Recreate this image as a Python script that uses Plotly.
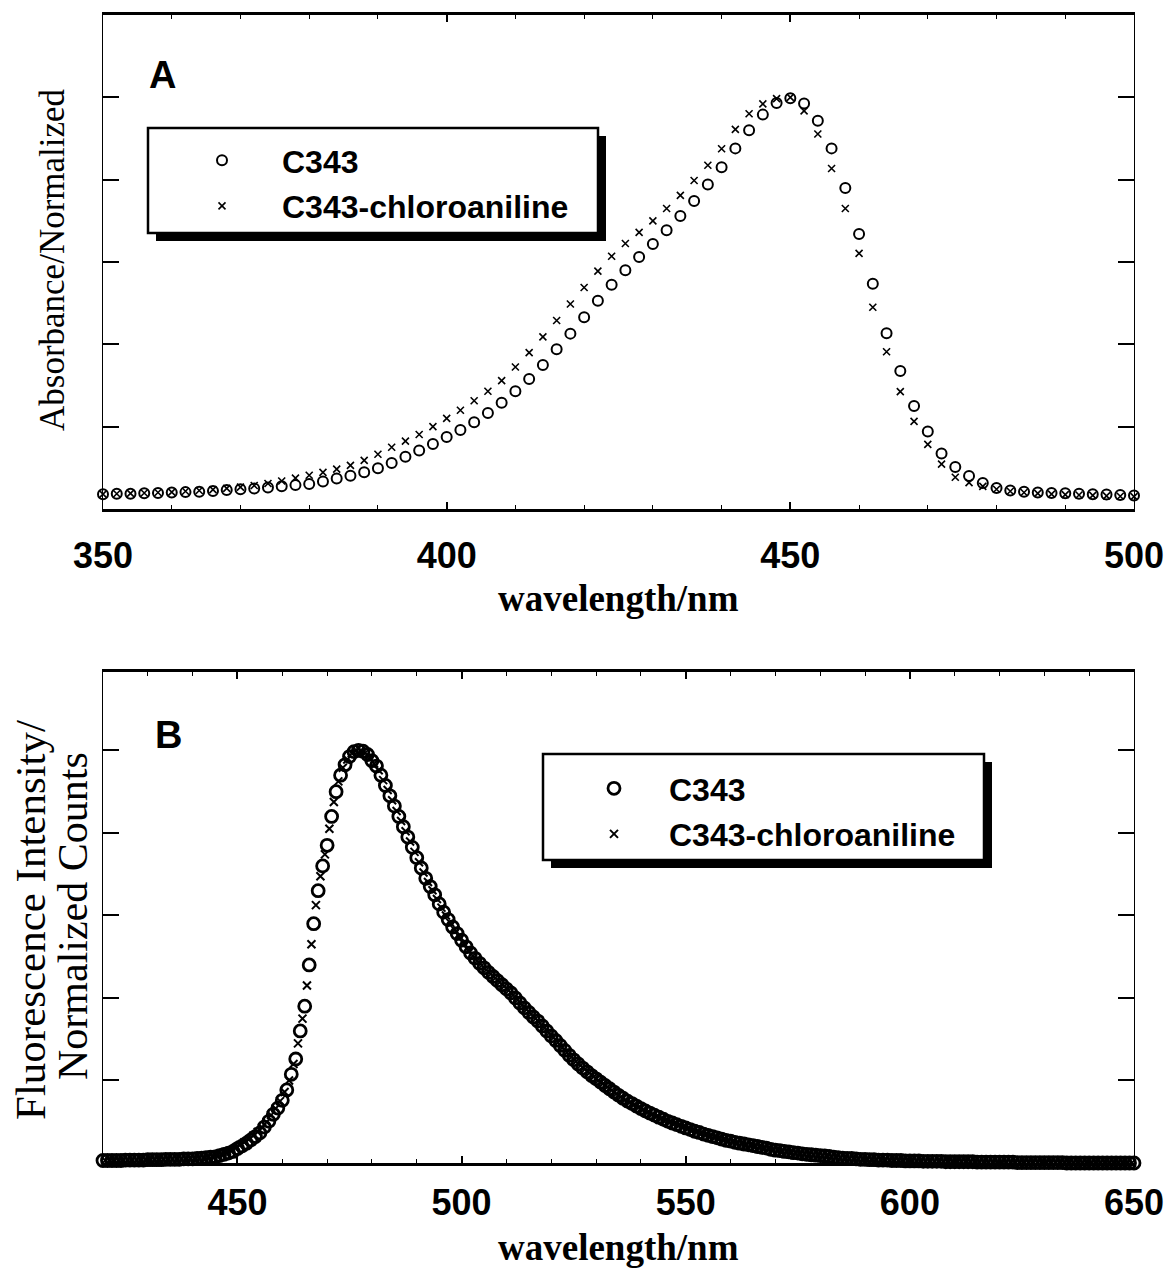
import plotly.graph_objects as go

# ---------------- Panel A data (absorbance, 2 nm steps) ----------------
wl_abs = list(range(350, 501, 2))
abs_c343 = [
    0.036, 0.037, 0.037, 0.038, 0.039, 0.040, 0.041, 0.042, 0.044, 0.046,
    0.048, 0.050, 0.052, 0.055, 0.058, 0.061, 0.067, 0.074, 0.081, 0.089,
    0.099, 0.112, 0.127, 0.142, 0.158, 0.175, 0.192, 0.211, 0.233, 0.258,
    0.286, 0.316, 0.350, 0.388, 0.426, 0.466, 0.506, 0.545, 0.580, 0.612,
    0.644, 0.677, 0.712, 0.748, 0.788, 0.830, 0.876, 0.920, 0.958, 0.986,
    0.998, 0.985, 0.943, 0.876, 0.780, 0.668, 0.547, 0.427, 0.335, 0.250,
    0.188, 0.135, 0.102, 0.080, 0.063, 0.051, 0.045, 0.042, 0.040, 0.039,
    0.038, 0.037, 0.036, 0.035, 0.034, 0.033,
]
abs_chloro = [
    0.036, 0.037, 0.038, 0.039, 0.040, 0.041, 0.043, 0.045, 0.047, 0.050,
    0.053, 0.057, 0.062, 0.068, 0.075, 0.082, 0.089, 0.097, 0.106, 0.118,
    0.133, 0.150, 0.165, 0.181, 0.200, 0.220, 0.240, 0.263, 0.286, 0.312,
    0.345, 0.380, 0.418, 0.458, 0.498, 0.538, 0.578, 0.614, 0.645, 0.672,
    0.700, 0.730, 0.762, 0.798, 0.835, 0.875, 0.922, 0.960, 0.984, 0.997,
    1.000, 0.967, 0.911, 0.827, 0.730, 0.621, 0.490, 0.382, 0.285, 0.213,
    0.157, 0.109, 0.077, 0.064, 0.055, 0.048, 0.043, 0.040, 0.038, 0.036,
    0.035, 0.034, 0.033, 0.032, 0.031, 0.030,
]

# ---------------- Panel B data (fluorescence) ----------------
wl_fl_c343 = list(range(420, 651))
fl_c343 = [
    0.006, 0.006, 0.006, 0.006, 0.006, 0.007, 0.007, 0.007, 0.007, 0.007,
    0.008, 0.008, 0.008, 0.008, 0.009, 0.009, 0.009, 0.009, 0.010, 0.010, 0.010,
    0.011, 0.012, 0.013, 0.014, 0.015, 0.018, 0.021, 0.024, 0.028, 0.035,
    0.041, 0.048, 0.056, 0.064, 0.073, 0.087, 0.101, 0.118, 0.133, 0.152,
    0.177, 0.215, 0.252, 0.320, 0.380, 0.480, 0.580, 0.660, 0.720, 0.770,
    0.840, 0.900, 0.940, 0.965, 0.985, 0.997, 1.000, 0.998, 0.990, 0.975,
    0.962, 0.940, 0.915, 0.890, 0.865, 0.840, 0.815, 0.790, 0.765, 0.740,
    0.715, 0.690, 0.670, 0.650, 0.628, 0.608, 0.590, 0.572, 0.556, 0.540,
    0.524, 0.509, 0.496, 0.484, 0.473, 0.462, 0.452, 0.442, 0.432, 0.422,
    0.412, 0.400, 0.388, 0.376, 0.365, 0.354, 0.344, 0.332, 0.320, 0.308,
    0.297, 0.285, 0.273, 0.261, 0.250, 0.240, 0.230, 0.221, 0.212, 0.204,
    0.196, 0.188, 0.180, 0.172, 0.164, 0.157, 0.150, 0.144, 0.138, 0.132,
    0.126, 0.121, 0.116, 0.111, 0.106, 0.101, 0.097, 0.093, 0.089, 0.085,
    0.081, 0.077, 0.074, 0.070, 0.067, 0.064, 0.061, 0.058, 0.055, 0.053,
    0.050, 0.048, 0.046, 0.044, 0.042, 0.040, 0.038, 0.036, 0.033, 0.031,
    0.030, 0.028, 0.027, 0.025, 0.024, 0.022, 0.021, 0.020, 0.019, 0.018,
    0.017, 0.016, 0.014, 0.013, 0.012, 0.011, 0.011, 0.010, 0.009, 0.009,
    0.008, 0.008, 0.007, 0.007, 0.007, 0.006, 0.006, 0.006, 0.005, 0.005,
    0.005, 0.005, 0.004, 0.004, 0.004, 0.004, 0.004, 0.003, 0.003, 0.003,
    0.003, 0.003, 0.003, 0.003, 0.002, 0.002, 0.002, 0.002, 0.002, 0.002,
    0.002, 0.002, 0.002, 0.001, 0.001, 0.001, 0.001, 0.001, 0.001, 0.001,
    0.001, 0.001, 0.001, 0.001, 0.000, 0.000, 0.000, 0.000, 0.000, 0.000,
    0.000, 0.000, 0.000, 0.000, 0.000, 0.000, 0.000, 0.000, 0.000, 0.000,
]
wl_fl_chloro = [w + 0.5 for w in range(420, 650)]
fl_chloro = [
    0.006, 0.006, 0.006, 0.006, 0.007, 0.007, 0.007, 0.007, 0.008, 0.008,
    0.008, 0.008, 0.009, 0.009, 0.009, 0.010, 0.010, 0.010, 0.011, 0.011, 0.012,
    0.012, 0.013, 0.015, 0.017, 0.019, 0.022, 0.026, 0.030, 0.036, 0.043,
    0.050, 0.057, 0.066, 0.075, 0.086, 0.099, 0.116, 0.132, 0.150, 0.172,
    0.200, 0.240, 0.290, 0.350, 0.430, 0.530, 0.625, 0.695, 0.748, 0.810,
    0.875, 0.925, 0.958, 0.978, 0.993, 1.000, 0.999, 0.994, 0.982, 0.968,
    0.952, 0.928, 0.904, 0.879, 0.853, 0.829, 0.804, 0.779, 0.754, 0.729,
    0.704, 0.681, 0.661, 0.640, 0.619, 0.600, 0.582, 0.565, 0.549, 0.532,
    0.516, 0.502, 0.490, 0.479, 0.468, 0.458, 0.448, 0.438, 0.428, 0.418,
    0.407, 0.395, 0.383, 0.372, 0.361, 0.350, 0.339, 0.327, 0.315, 0.304,
    0.292, 0.280, 0.268, 0.257, 0.246, 0.236, 0.227, 0.218, 0.209, 0.200,
    0.192, 0.184, 0.176, 0.168, 0.160, 0.153, 0.147, 0.141, 0.135, 0.129,
    0.123, 0.118, 0.113, 0.108, 0.104, 0.100, 0.096, 0.092, 0.088, 0.084,
    0.080, 0.076, 0.073, 0.069, 0.066, 0.063, 0.060, 0.057, 0.054, 0.052,
    0.049, 0.047, 0.045, 0.043, 0.041, 0.039, 0.037, 0.035, 0.033, 0.031,
    0.029, 0.028, 0.026, 0.025, 0.023, 0.022, 0.021, 0.020, 0.019, 0.018,
    0.017, 0.015, 0.014, 0.013, 0.012, 0.011, 0.010, 0.010, 0.009, 0.009,
    0.008, 0.008, 0.007, 0.007, 0.006, 0.006, 0.006, 0.005, 0.005, 0.005,
    0.005, 0.004, 0.004, 0.004, 0.004, 0.004, 0.003, 0.003, 0.003, 0.003,
    0.003, 0.003, 0.003, 0.002, 0.002, 0.002, 0.002, 0.002, 0.002, 0.002,
    0.002, 0.002, 0.001, 0.001, 0.001, 0.001, 0.001, 0.001, 0.001, 0.001,
    0.001, 0.001, 0.001, 0.000, 0.000, 0.000, 0.000, 0.000, 0.000, 0.000,
    0.000, 0.000, 0.000, 0.000, 0.000, 0.000, 0.000, 0.000, 0.000,
]

series_names = ["C343", "C343-chloroaniline"]
ticks_a = [350, 400, 450, 500]
ticks_b = [450, 500, 550, 600, 650]
yticks_norm = [0.2, 0.4, 0.6, 0.8, 1.0]

# ---------------- layout helpers (pixel -> paper) ----------------
W, H = 1172, 1274
def px(x):
    return x / W
def py(y):
    return 1 - y / H

SERIF = "Liberation Serif, Times New Roman, serif"
SANS = "Liberation Sans, Arial, sans-serif"

circle_a = dict(symbol="circle-open", size=10, color="black", line=dict(width=2, color="black"))
cross_a = dict(symbol="x-thin-open", size=7, color="black", line=dict(width=1.6, color="black"))
circle_b = dict(symbol="circle-open", size=12, color="black", line=dict(width=2.8, color="black"))
cross_b = dict(symbol="x-thin-open", size=8, color="black", line=dict(width=2, color="black"))

fig = go.Figure()
fig.add_trace(go.Scatter(x=wl_abs, y=abs_c343, mode="markers", marker=circle_a,
                         name=series_names[0], xaxis="x", yaxis="y", legend="legend",
                         legendgroup="a1", cliponaxis=False))
fig.add_trace(go.Scatter(x=wl_abs, y=abs_chloro, mode="markers", marker=cross_a,
                         name=series_names[1], xaxis="x", yaxis="y", legend="legend",
                         legendgroup="a2", cliponaxis=False))
fig.add_trace(go.Scatter(x=wl_fl_c343, y=fl_c343, mode="markers", marker=circle_b,
                         name=series_names[0], xaxis="x2", yaxis="y2", legend="legend2",
                         legendgroup="b1", cliponaxis=False))
fig.add_trace(go.Scatter(x=wl_fl_chloro, y=fl_chloro, mode="markers", marker=cross_b,
                         name=series_names[1], xaxis="x2", yaxis="y2", legend="legend2",
                         legendgroup="b2", cliponaxis=False))

def xaxis_style(standoff):
    return dict(showline=True, linecolor="black", linewidth=2.5, mirror="ticks",
                ticks="inside", ticklen=7, tickwidth=1.5, tickcolor="black",
                showgrid=False, zeroline=False, automargin=False,
                tickfont=dict(family=SANS, size=36, color="black", weight="bold"),
                ticklabelstandoff=standoff,
                minor=dict(dtick=10, ticks="inside", ticklen=4, tickwidth=1, tickcolor="black"))

ycommon = dict(showline=True, linecolor="black", linewidth=1, mirror="ticks",
               ticks="inside", ticklen=16, tickwidth=2, tickcolor="black",
               showgrid=False, zeroline=False, showticklabels=False, automargin=False,
               tickvals=yticks_norm)

xd = [px(103), px(1134)]
legend_font = dict(family=SANS, size=32, color="black", weight="bold")
fig.update_layout(
    width=W, height=H,
    margin=dict(l=0, r=0, t=0, b=0, autoexpand=False),
    paper_bgcolor="white", plot_bgcolor="white",
    xaxis=dict(domain=xd, range=[350, 500], tickvals=ticks_a, anchor="y", **xaxis_style(13)),
    yaxis=dict(domain=[py(509), py(15)], range=[0, 1.2], anchor="x", **ycommon),
    xaxis2=dict(domain=xd, range=[420, 650], tickvals=ticks_b, anchor="y2", **xaxis_style(6)),
    yaxis2=dict(domain=[py(1163), py(672)], range=[0, 1.19], anchor="x2", **ycommon),
    legend=dict(x=px(162), y=py(133), xanchor="left", yanchor="top",
                bgcolor="rgba(0,0,0,0)", borderwidth=0, itemwidth=110,
                tracegroupgap=1, itemclick=False, font=legend_font),
    legend2=dict(x=px(559), y=py(761), xanchor="left", yanchor="top",
                 bgcolor="rgba(0,0,0,0)", borderwidth=0, itemwidth=100,
                 tracegroupgap=1, itemclick=False, font=legend_font),
    showlegend=True,
)

# legend frames with drop shadow
def framed_box(x0, y0, x1, y1, off=8):
    fig.add_shape(type="rect", xref="paper", yref="paper",
                  x0=px(x0 + off), x1=px(x1 + off), y0=py(y1 + off), y1=py(y0 + off),
                  fillcolor="black", line=dict(width=0), layer="above")
    fig.add_shape(type="rect", xref="paper", yref="paper",
                  x0=px(x0), x1=px(x1), y0=py(y1), y1=py(y0),
                  fillcolor="white", line=dict(width=2.5, color="black"), layer="above")

framed_box(148, 128, 598, 233)
framed_box(543, 754, 984, 860)

# panel labels and axis titles
def ann(text, x, y, size, family, weight="normal", angle=0):
    fig.add_annotation(text=text, x=px(x), y=py(y), xref="paper", yref="paper",
                       showarrow=False, textangle=angle, xanchor="center", yanchor="middle",
                       font=dict(family=family, size=size, color="black", weight=weight))

ann("A", 163, 75, 38, SANS, "bold")
ann("B", 168, 735, 38, SANS, "bold")
ann("wavelength/nm", 618, 598, 37, SERIF, "bold")
ann("wavelength/nm", 618, 1247, 37, SERIF, "bold")
ann("Absorbance/Normalized", 52, 260, 35, SERIF, angle=-90)
ann("Fluorescence Intensity/", 30, 920, 43, SERIF, angle=-90)
ann("Normalized Counts", 73, 916, 42, SERIF, angle=-90)

fig.write_html("out.html", config={"displayModeBar": False},
               post_script="document.body.style.margin='0';document.body.style.overflow='hidden';")
